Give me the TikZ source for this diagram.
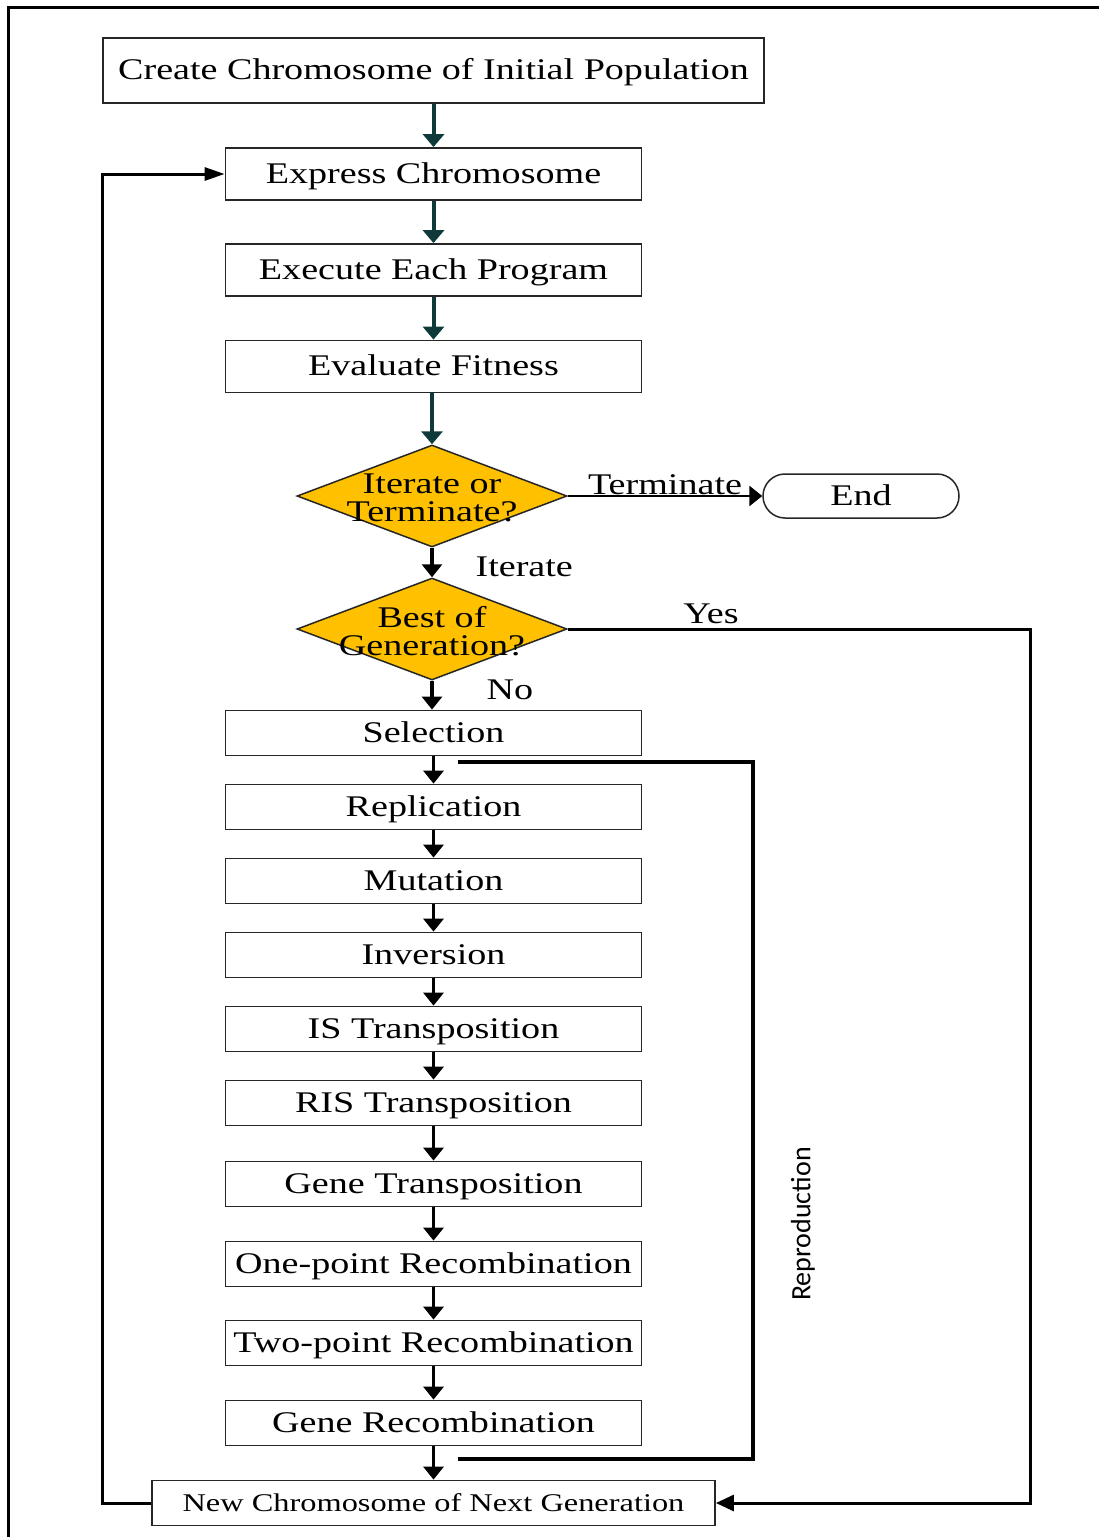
\documentclass[tikz,border=0pt]{standalone}
\usepackage{fontspec}
\setmainfont[FakeStretch=1.27]{Liberation Serif}
\newfontfamily\repfont{Carlito}
\usetikzlibrary{shapes.geometric,shapes.misc,arrows.meta,calc}
\definecolor{tealdark}{HTML}{0E3B3A}
\definecolor{gold}{HTML}{FFC000}
\begin{document}
\begin{tikzpicture}[x=1pt,y=-1pt,
  box/.style={draw=black!85,line width=1.8pt,fill=white,minimum width=416pt,minimum height=45pt,inner sep=0pt,text height=21pt,text depth=3pt,font=\fontsize{30}{28}\selectfont},
  dec/.style={diamond,draw=black!85,line width=1.5pt,fill=gold,minimum width=270pt,minimum height=102pt,inner sep=0pt},
  dtext/.style={align=center,font=\fontsize{30}{28}\selectfont,inner sep=0pt,yshift=-2pt},
  tarr/.style={draw=tealdark,line width=4pt,-{Triangle[length=13pt,width=21pt]}},
  barr/.style={draw=black,line width=3.2pt,-{Triangle[length=13pt,width=20pt]}},
  lbl/.style={font=\fontsize{30}{28}\selectfont,inner sep=0pt},
  loop/.style={draw=black,line width=3pt}
]
\useasboundingbox (0,0) rectangle (1099,1537);
\draw[line width=3pt] (8,7) rectangle (1120,1560);

\node[box,minimum width=661pt,minimum height=65pt] (init) at (433.5,70.5) {Create Chromosome of Initial Population};
\node[box,minimum height=52pt] (ex) at (433.5,174) {Express Chromosome};
\node[box,minimum height=52pt] (exe) at (433.5,270) {Execute Each Program};
\node[box,minimum height=52pt] (ev) at (433.5,366.5) {Evaluate Fitness};
\node[dec] (d1) at (432,496) {};
\node[dtext] (d1t) at (432,496) {Iterate or\\Terminate?};
\node[rounded rectangle,draw=black!85,line width=1.5pt,minimum width=196pt,minimum height=44pt,inner sep=0pt,text height=21pt,text depth=3pt,font=\fontsize{30}{28}\selectfont] (end) at (861,496) {End};
\node[dec] (d2) at (432,629) {};
\node[dtext] (d2t) at (432,629) {Best of\\Generation?};
\node[box] (sel) at (433.5,733) {Selection};
\node[box] (rep) at (433.5,807) {Replication};
\node[box] (mut) at (433.5,881) {Mutation};
\node[box] (inv) at (433.5,955) {Inversion};
\node[box] (ist) at (433.5,1029) {IS Transposition};
\node[box] (rist) at (433.5,1103) {RIS Transposition};
\node[box] (gt) at (433.5,1184) {Gene Transposition};
\node[box] (opr) at (433.5,1264) {One-point Recombination};
\node[box] (tpr) at (433.5,1343) {Two-point Recombination};
\node[box] (gr) at (433.5,1423) {Gene Recombination};
\node[box,minimum width=563pt,minimum height=45pt,text height=18pt,text depth=2pt,font=\fontsize{25.5}{28}\selectfont] (new) at (433.5,1503) {New Chromosome of Next Generation};

% connectors
\draw[tarr] (init) -- (ex);
\draw[tarr] (ex) -- (exe);
\draw[tarr] (exe) -- (ev);
\draw[tarr] (ev.south -| d1.north) -- (d1.north);
\draw[barr] (d1.south) -- (d2.north) node[lbl,pos=0.5,anchor=west,xshift=42pt,yshift=-4.5pt] {Iterate};
\draw[barr,line width=2.8pt] (d1.east) -- (end.west) node[lbl,midway,above,yshift=0pt] {Terminate};
\draw[barr] (d2.south) -- (sel.north -| d2.south) node[lbl,pos=0.3,anchor=west,xshift=53pt] {No};
\draw[loop,-{Triangle[length=18pt,width=16pt]}] (d2.east) -- (1030,629) |- (new.east);
\node[lbl] (yes) at (711,614) {Yes};
\draw[barr] (sel) -- (rep);
\draw[barr] (rep) -- (mut);
\draw[barr] (mut) -- (inv);
\draw[barr] (inv) -- (ist);
\draw[barr] (ist) -- (rist);
\draw[barr] (rist) -- (gt);
\draw[barr] (gt) -- (opr);
\draw[barr] (opr) -- (tpr);
\draw[barr] (tpr) -- (gr);
\draw[barr] (gr) -- (new);
\coordinate (bt) at (458,762);
\coordinate (bb) at (458,1459);
\draw[line width=4pt] (bt) -| (753,1459) -- (bb);
\node[rotate=90,font=\repfont\fontsize{28}{28}\selectfont,inner sep=0pt] (repro) at (803,1224) {Reproduction};
\draw[loop,-{Triangle[length=20pt,width=13pt]}] (new.west) -- ++(-49,0) |- (ex.west);
\end{tikzpicture}
\end{document}
